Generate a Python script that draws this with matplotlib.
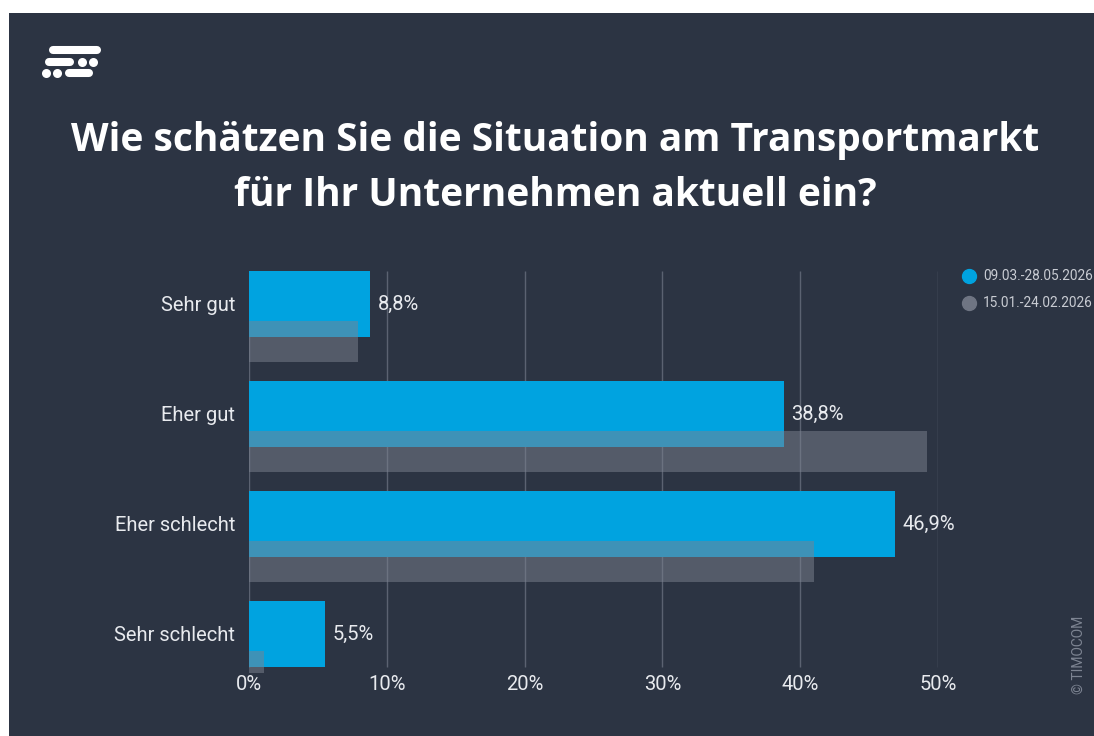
#! /usr/bin/env python3
"""Umfrage Transportmarkt: horizontale Balken, zwei Zeiträume."""

import matplotlib.pyplot as plt
import numpy as np
from matplotlib.patches import Rectangle

plt.rcParams.update({"font.family": ["Roboto", "DejaVu Sans"], "font.size": 12})

categories = ["Sehr gut", "Eher gut", "Eher schlecht", "Sehr schlecht"]
current = [8.8, 38.8, 46.9, 5.5]
previous = [7.9, 49.2, 41.0, 1.1]
series_labels = ["09.03.-28.05.2026", "15.01.-24.02.2026"]
ticks = [0, 10, 20, 30, 40, 50]

bg = "#2c3443"
blue = "#00a3e0"
grey = "#7c8290"
text_col = "#e8eaee"

fig = plt.figure(figsize=(10.94, 7.36), dpi=100, facecolor="white")
W, H = 1094, 736


def fx(px):
    return px / W


def fy(py):
    return 1 - py / H


# dark card
fig.patches.append(Rectangle((fx(9), 0), 1 - fx(9), fy(13), transform=fig.transFigure,
                             facecolor=bg, edgecolor="none", zorder=-5))

# logo: bars and dots
for x0, x1, yy in [(53, 97, 49.5), (49, 70, 62), (69, 89, 73)]:
    fig.add_artist(plt.Line2D([fx(x0), fx(x1)], [fy(yy), fy(yy)], transform=fig.transFigure,
                              color="white", lw=5.8, solid_capstyle="round"))
for xx, yy in [(82, 62), (92.5, 62), (45.5, 73), (57, 73)]:
    fig.add_artist(plt.Line2D([fx(xx)], [fy(yy)], transform=fig.transFigure, marker="o",
                              markersize=6.5, color="white", markeredgewidth=0,
                              linestyle="none"))

for line, py in [("Wie schätzen Sie die Situation am Transportmarkt", 140),
                 ("für Ihr Unternehmen aktuell ein?", 196)]:
    fig.text(fx(555), fy(py), line, ha="center", va="center", fontsize=28,
             fontweight="bold", family="Open Sans", color="white")

ax = fig.add_axes([fx(249), fy(673), fx(938) - fx(249), fy(271) - fy(673)])
ax.patch.set_visible(False)

y = np.arange(len(categories))
ax.vlines(ticks, -0.3, len(categories) - 0.7, color="#5b6271", lw=1, zorder=1)
ax.barh(y, current, height=0.6, color=blue, zorder=2)
ax.barh(y + 0.34, previous, height=0.37, color=grey, alpha=0.5, zorder=3)

for yi, v in zip(y, current):
    ax.text(v + 0.55, yi, f"{v:.1f}%".replace(".", ","), va="center", ha="left",
            fontsize=14.5, color=text_col)

ax.set_xlim(0, 50)
ax.set_ylim(len(categories) - 0.645, -0.3)
ax.set_yticks(y)
ax.set_yticklabels(categories, fontsize=14.5, color=text_col)
ax.set_xticks(ticks)
ax.set_xticklabels([f"{t}%" for t in ticks], fontsize=14.5, color=text_col)
ax.tick_params(length=0)
ax.tick_params(axis="y", pad=10)
ax.tick_params(axis="x", pad=1.5)
for s in ax.spines.values():
    s.set_visible(False)

# legend
for i, (lab, col) in enumerate(zip(series_labels, [blue, "#6f7583"])):
    ly = fy(276 + 27 * i)
    fig.add_artist(plt.Line2D([fx(969)], [ly], transform=fig.transFigure, marker="o",
                              markersize=10, color=col, linestyle="none"))
    fig.text(fx(983), ly, lab, ha="left", va="center", fontsize=9.8, color="#c9ccd3")

fig.text(fx(1079), fy(655), "© TIMOCOM", rotation=90, ha="center", va="center",
         fontsize=10, color="#7d8492")

fig.savefig("out.png", dpi=100, facecolor="white")
